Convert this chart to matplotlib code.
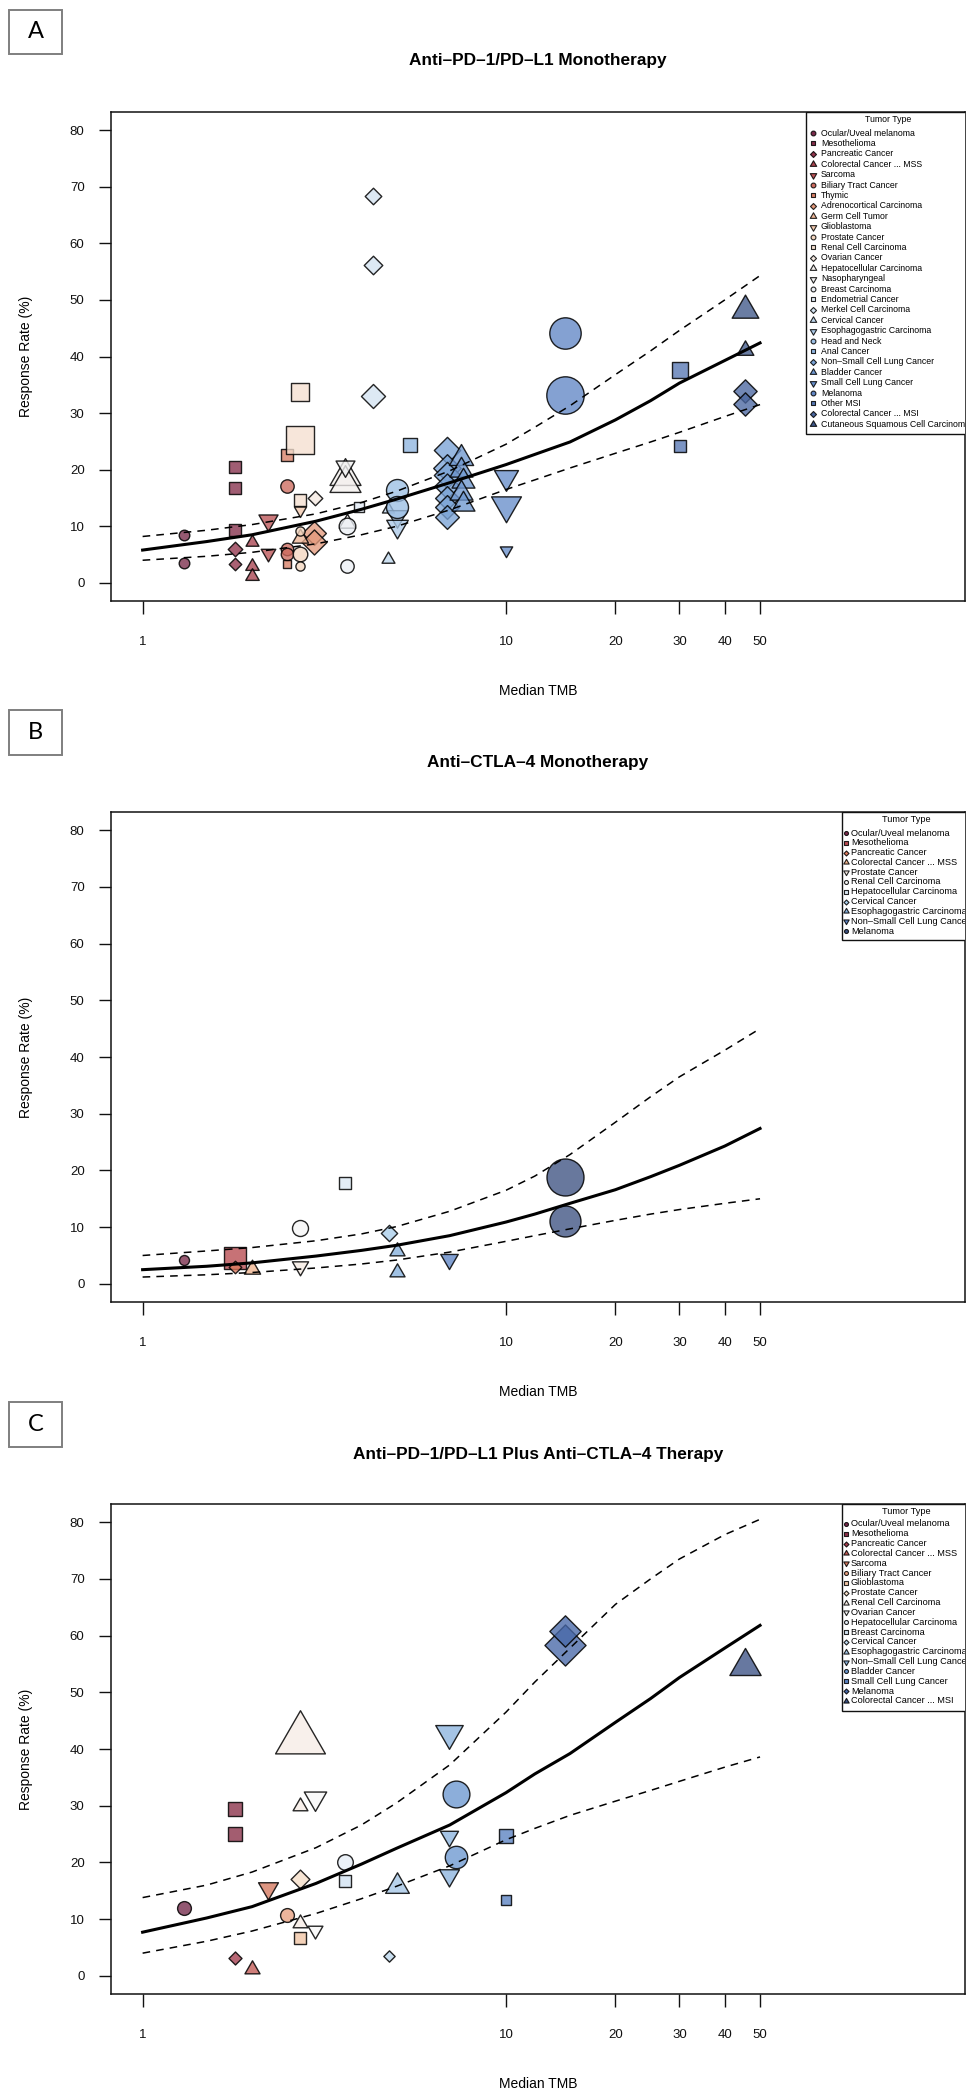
import numpy as np
import matplotlib
matplotlib.use("Agg")
import matplotlib.pyplot as plt
from matplotlib.path import Path
from matplotlib.patches import Rectangle
from matplotlib.colors import to_rgba
from matplotlib.ticker import FixedLocator, NullLocator, FixedFormatter

plt.rcParams["font.family"] = ["Liberation Sans", "DejaVu Sans"]

W, H, DPI = 978, 2100, 100
PT = 72.0 / DPI

# ---------------- panel A: anti-PD-1/PD-L1 ----------------
A_types = ["Ocular/Uveal melanoma", "Mesothelioma", "Pancreatic Cancer", "Colorectal Cancer ... MSS",
           "Sarcoma", "Biliary Tract Cancer", "Thymic", "Adrenocortical Carcinoma", "Germ Cell Tumor",
           "Glioblastoma", "Prostate Cancer", "Renal Cell Carcinoma", "Ovarian Cancer",
           "Hepatocellular Carcinoma", "Nasopharyngeal", "Breast Carcinoma", "Endometrial Cancer",
           "Merkel Cell Carcinoma", "Cervical Cancer", "Esophagogastric Carcinoma", "Head and Neck",
           "Anal Cancer", "Non\u2013Small Cell Lung Cancer", "Bladder Cancer", "Small Cell Lung Cancer",
           "Melanoma", "Other MSI", "Colorectal Cancer ... MSI", "Cutaneous Squamous Cell Carcinoma"]
A_colors = ["#7a2b4b", "#85304c", "#92354d", "#a8434f", "#bc5356", "#cc6a5e", "#d87f66", "#e49a7c",
            "#edb596", "#f2c9ae", "#f4d6c0", "#f5e0d0", "#f5eae2", "#f4f0ee", "#f2f2f2", "#ecf0f6",
            "#e2ebf5", "#d4e4f2", "#c0d8ee", "#accae8", "#9cbfe4", "#8fb5df", "#7aa3d6", "#6f97cf",
            "#688fcb", "#6287c6", "#5778b4", "#4b67a0", "#40588a"]
A_type = [0, 0, 1, 1, 1, 2, 2, 3, 3, 3, 4, 4, 5, 5, 5, 6, 6, 7, 7, 8, 9, 10, 10, 10, 11, 11, 11,
          12, 13, 13, 13, 14, 15, 15, 16, 17, 17, 17, 18, 18, 19, 19, 20, 20, 21,
          22, 22, 22, 22, 22, 22, 22, 23, 23, 23, 23, 23, 24, 24, 24, 25, 25, 26, 26, 27, 27, 28, 28]
A_tmb = [1.30, 1.30, 1.80, 1.80, 1.80, 1.80, 1.80, 2.00, 2.00, 2.00, 2.21, 2.21, 2.50, 2.50, 2.50,
         2.50, 2.50, 2.97, 2.97, 2.71, 2.71, 2.71, 2.71, 2.71, 2.71, 2.71, 2.71,
         2.98, 3.60, 3.60, 3.64, 3.60, 3.64, 3.64, 3.94, 4.30, 4.30, 4.30, 4.74, 4.74, 5.00, 5.00,
         5.00, 5.00, 5.44, 6.90, 6.90, 6.90, 6.90, 6.90, 6.90, 6.90, 7.50, 7.50, 7.60, 7.50, 7.60,
         10.0, 10.0, 10.0, 14.5, 14.5, 30.2, 30.2, 45.4, 45.4, 45.4, 45.4]
A_rr = [8.4, 3.5, 20.5, 16.7, 9.4, 6.0, 3.3, 7.3, 3.0, 1.3, 11.2, 5.3, 17.2, 6.0, 5.1,
        22.6, 3.3, 8.8, 7.2, 8.0, 12.9, 9.2, 5.1, 2.9, 33.7, 25.3, 14.7,
        15.0, 18.9, 17.7, 10.5, 20.6, 10.0, 3.0, 13.4, 68.3, 56.1, 33.1, 13.0, 4.3, 11.8, 10.1,
        16.4, 13.4, 24.4, 23.5, 20.3, 19.0, 17.1, 15.0, 13.4, 11.6, 22.0, 20.0, 18.0, 15.8, 14.0,
        18.7, 13.7, 5.8, 44.2, 33.2, 37.7, 24.2, 33.9, 31.6, 48.2, 41.1]
A_size = [5.3, 5.3, 7.3, 7.3, 7.0, 5.8, 5.0, 4.8, 5.0, 5.0, 7.1, 5.4, 6.7, 6.2, 6.2,
          6.9, 5.0, 9.5, 10.0, 6.0, 4.5, 4.6, 7.3, 4.6, 10.5, 15.8, 7.2,
          5.8, 11.5, 11.5, 6.0, 7.0, 8.3, 6.7, 5.6, 6.6, 7.4, 9.6, 4.5, 4.8, 7.5, 8.0,
          11.0, 11.0, 7.5, 10.5, 11.0, 10.5, 10.0, 9.5, 9.5, 9.5, 9.0, 8.5, 8.5, 8.5, 8.5,
          8.9, 11.1, 4.6, 15.7, 18.7, 9.4, 6.8, 9.3, 9.3, 9.9, 6.2]
fit_x = [1, 1.5, 2, 3, 4, 5, 7, 10, 12, 15, 20, 25, 30, 40, 50]
A_fit = [5.8, 7.3, 8.5, 10.9, 13.0, 14.8, 17.7, 20.9, 22.7, 24.9, 28.8, 32.2, 35.3, 39.3, 42.4]
A_upper = [8.2, 9.3, 10.3, 12.2, 14.2, 16.2, 19.8, 24.5, 27.5, 31.3, 36.8, 41.0, 44.6, 50.0, 54.3]
A_lower = [4.0, 4.7, 5.4, 6.9, 8.5, 10.0, 12.9, 16.5, 18.2, 20.3, 22.9, 24.9, 26.6, 29.4, 31.5]

# ---------------- panel B: anti-CTLA-4 ----------------
B_types = ["Ocular/Uveal melanoma", "Mesothelioma", "Pancreatic Cancer", "Colorectal Cancer ... MSS",
           "Prostate Cancer", "Renal Cell Carcinoma", "Hepatocellular Carcinoma", "Cervical Cancer",
           "Esophagogastric Carcinoma", "Non\u2013Small Cell Lung Cancer", "Melanoma"]
B_colors = ["#7a2b4b", "#b84a50", "#dc7a5e", "#f0b48e", "#f6ebe4", "#f5f5f5", "#dce8f4",
            "#aacdea", "#86b0dc", "#5f86c6", "#3d5282"]
B_type = [0, 1, 2, 3, 4, 5, 6, 7, 8, 8, 9, 10, 10]
B_tmb = [1.30, 1.80, 1.80, 2.00, 2.71, 2.71, 3.60, 4.75, 5.00, 5.00, 6.95, 14.5, 14.5]
B_rr = [4.2, 4.6, 3.0, 2.7, 3.1, 9.9, 17.8, 9.0, 5.8, 2.1, 4.3, 18.8, 11.1]
B_size = [5.0, 12.4, 5.0, 6.0, 6.0, 8.0, 6.3, 6.5, 5.6, 5.6, 6.5, 18.5, 15.5]
B_fit = [2.5, 3.1, 3.7, 4.9, 5.9, 6.8, 8.5, 10.9, 12.3, 14.2, 16.6, 18.9, 20.9, 24.3, 27.4]
B_upper = [5.0, 5.8, 6.4, 7.6, 8.8, 10.1, 12.8, 16.5, 19.0, 22.8, 28.5, 33.0, 36.5, 41.2, 45.0]
B_lower = [1.2, 1.6, 2.0, 2.8, 3.5, 4.2, 5.6, 7.5, 8.5, 9.7, 11.2, 12.3, 13.1, 14.2, 15.0]

# ---------------- panel C: combination ----------------
C_types = ["Ocular/Uveal melanoma", "Mesothelioma", "Pancreatic Cancer", "Colorectal Cancer ... MSS",
           "Sarcoma", "Biliary Tract Cancer", "Glioblastoma", "Prostate Cancer", "Renal Cell Carcinoma",
           "Ovarian Cancer", "Hepatocellular Carcinoma", "Breast Carcinoma", "Cervical Cancer",
           "Esophagogastric Carcinoma", "Non\u2013Small Cell Lung Cancer", "Bladder Cancer",
           "Small Cell Lung Cancer", "Melanoma", "Colorectal Cancer ... MSI"]
C_colors = ["#74294a", "#8a2f48", "#a43c4e", "#c25a55", "#d4785e", "#e8a080", "#f0c4a4", "#f6dec8",
            "#f7ede6", "#f8f8f8", "#e6eef7", "#d2e2f1", "#bcd6ec", "#a4c6e6", "#8cb4de", "#6c98d0",
            "#5a82c2", "#4868a8", "#3c5286"]
C_type = [0, 1, 1, 2, 3, 4, 5, 6, 7, 8, 8, 8, 9, 9, 10, 11, 12, 13, 14, 14, 14, 15, 15, 16, 16,
          17, 17, 18]
C_tmb = [1.30, 1.80, 1.80, 1.80, 2.00, 2.21, 2.50, 2.71, 2.71, 2.71, 2.71, 2.71, 2.98, 2.98, 3.60,
         3.60, 4.75, 5.00, 6.95, 6.95, 6.95, 7.29, 7.29, 10.0, 10.0, 14.5, 14.5, 45.4]
C_rr = [12.0, 29.4, 25.0, 3.1, 1.2, 15.5, 10.8, 6.7, 17.1, 41.7, 30.0, 9.3, 31.3, 8.0, 20.1,
        16.7, 3.5, 15.8, 42.9, 24.6, 17.7, 32.1, 20.9, 24.6, 13.4, 58.3, 60.8, 54.6]
C_size = [6.9, 7.7, 7.7, 5.2, 5.6, 7.4, 6.9, 6.3, 7.5, 18.5, 5.5, 5.5, 8.3, 5.5, 7.8,
          6.3, 4.5, 8.8, 10.2, 6.7, 7.4, 13.4, 11.2, 7.7, 5.3, 16.4, 12.5, 11.6]
C_fit = [7.7, 10.2, 12.2, 16.3, 19.7, 22.5, 26.6, 32.3, 35.6, 39.2, 44.7, 48.9, 52.6, 57.8, 61.8]
C_upper = [13.8, 16.0, 18.3, 22.6, 26.6, 30.5, 37.2, 46.5, 51.8, 57.8, 65.5, 70.0, 73.5, 77.8, 80.5]
C_lower = [4.0, 6.1, 7.9, 11.0, 13.6, 15.8, 19.4, 24.0, 26.0, 28.3, 30.8, 32.7, 34.3, 36.8, 38.6]

x_ticks = [1, 10, 20, 30, 40, 50]
y_ticks = [0, 10, 20, 30, 40, 50, 60, 70, 80]

# R-style filled symbols (pch 21..25), equal area for equal size
SQ, DM = 0.8862269, 1.2533141
T0, T1, T2 = 1.5551203, 1.3467737, 0.7775602


def rpath(pts):
    pts = list(pts) + [pts[0]]
    return Path(pts, closed=True)


SHAPES = [
    ("o", 1.0),
    (rpath([(-SQ, -SQ), (SQ, -SQ), (SQ, SQ), (-SQ, SQ)]), SQ),
    (rpath([(0, DM), (DM, 0), (0, -DM), (-DM, 0)]), DM),
    (rpath([(0, T0), (T1, -T2), (-T1, -T2)]), T0),
    (rpath([(0, -T0), (T1, T2), (-T1, T2)]), T0),
]


def symbol(ax, x, y, r_px, shape, color, mew=1.0, alpha=0.78, **kw):
    marker, ext = SHAPES[shape % 5]
    ax.plot([x], [y], linestyle="none", marker=marker, ms=2 * r_px * ext * PT,
            mfc=to_rgba(color, alpha), mec=(0, 0, 0, 0.85), mew=mew, **kw)


fig = plt.figure(figsize=(W / DPI, H / DPI), dpi=DPI)

panels = [
    dict(label="A", title="Anti\u2013PD\u20131/PD\u2013L1 Monotherapy", top=112, bot=601,
         title_y=61, box=(9, 10, 62, 54), types=A_types, colors=A_colors, t=A_type, x=A_tmb,
         y=A_rr, s=A_size, fit=A_fit, up=A_upper, lo=A_lower,
         leg=dict(left=806, bot=434, title=119, first=133, step=10.4, mx=813, tx=821, fs=6.3,
                  ms=2.4)),
    dict(label="B", title="Anti\u2013CTLA\u20134 Monotherapy", top=812, bot=1302,
         title_y=762, box=(9, 710, 62, 755), types=B_types, colors=B_colors, t=B_type, x=B_tmb,
         y=B_rr, s=B_size, fit=B_fit, up=B_upper, lo=B_lower,
         leg=dict(left=842, bot=940, title=820, first=833, step=9.8, mx=846.5, tx=851, fs=6.6,
                  ms=2.0)),
    dict(label="C", title="Anti\u2013PD\u20131/PD\u2013L1 Plus Anti\u2013CTLA\u20134 Therapy", top=1504,
         bot=1994, title_y=1454, box=(9, 1402, 62, 1447), types=C_types, colors=C_colors,
         t=C_type, x=C_tmb, y=C_rr, s=C_size, fit=C_fit, up=C_upper, lo=C_lower,
         leg=dict(left=842, bot=1711, title=1512, first=1524, step=9.83, mx=846.5, tx=851,
                  fs=6.6, ms=2.0)),
]

L, R = 111, 965
for p in panels:
    top, bot = p["top"], p["bot"]
    ax = fig.add_axes([L / W, 1 - bot / H, (R - L) / W, (bot - top) / H])
    ax.set_xscale("log")
    ax.set_xlim(10 ** -0.087, 10 ** 2.263)
    ax.set_ylim(-3.2, 83.2)
    ax.xaxis.set_major_locator(FixedLocator(x_ticks))
    ax.xaxis.set_major_formatter(FixedFormatter([str(v) for v in x_ticks]))
    ax.xaxis.set_minor_locator(NullLocator())
    ax.set_yticks(y_ticks)
    ax.tick_params(axis="both", direction="out", length=9, width=1.0, labelsize=9.5,
                   colors="#111111")
    ax.tick_params(axis="x", pad=16)
    ax.tick_params(axis="y", pad=10)
    for sp in ax.spines.values():
        sp.set_linewidth(1.1)
        sp.set_color("#111111")

    # points
    for ti, xv, yv, sv in zip(p["t"], p["x"], p["y"], p["s"]):
        symbol(ax, xv, yv, sv, ti, p["colors"][ti], zorder=3)

    # fitted curve and confidence band
    ax.plot(fit_x, p["fit"], color="black", lw=2.2, zorder=4)
    ax.plot(fit_x, p["up"], color="black", lw=1.1, ls=(0, (5, 4)), zorder=4)
    ax.plot(fit_x, p["lo"], color="black", lw=1.1, ls=(0, (5, 4)), zorder=4)

    # legend (drawn by hand so it is clipped at the plot edge like the original)
    lg = p["leg"]

    def ax_xy(px, py):
        return (px - L) / (R - L), (bot - py) / (bot - top)

    lx, ly = ax_xy(lg["left"], lg["bot"])
    ax.add_patch(Rectangle((lx, ly), 1.2 - lx, 1 - ly, transform=ax.transAxes, facecolor="white",
                           edgecolor="#111111", lw=1.0, zorder=6, clip_on=True))
    tx0, ty0 = ax_xy((lg["left"] + R) / 2 + 3, lg["title"])
    ax.text(tx0, ty0, "Tumor Type", transform=ax.transAxes, ha="center", va="center",
            fontsize=lg["fs"], zorder=7, clip_on=True)
    for i, name in enumerate(p["types"]):
        py = lg["first"] + i * lg["step"]
        mx, my = ax_xy(lg["mx"], py)
        symbol(ax, mx, my, lg["ms"], i, p["colors"][i], mew=0.8, alpha=1.0,
               transform=ax.transAxes, zorder=7, clip_on=True)
        tx, ty = ax_xy(lg["tx"], py)
        ax.text(tx, ty, name, transform=ax.transAxes, ha="left", va="center", fontsize=lg["fs"],
                zorder=7, clip_on=True)

    # titles and axis labels
    cx = (L + R) / 2 / W
    fig.text(cx, 1 - p["title_y"] / H, p["title"], ha="center", va="center", fontsize=12.4,
             fontweight="bold")
    fig.text(cx, 1 - (bot + 90) / H, "Median TMB", ha="center", va="center", fontsize=10)
    fig.text(26 / W, 1 - (top + bot) / 2 / H, "Response Rate (%)", rotation=90, ha="center",
             va="center", fontsize=10)

    # panel letter box
    x0, y0, x1, y1 = p["box"]
    fig.patches.append(Rectangle((x0 / W, 1 - y1 / H), (x1 - x0) / W, (y1 - y0) / H,
                                 transform=fig.transFigure, fill=False, edgecolor="#7f7f7f",
                                 lw=1.4))
    fig.text((x0 + x1) / 2 / W, 1 - (y0 + y1) / 2 / H, p["label"], ha="center", va="center",
             fontsize=17, family=["Lato", "DejaVu Sans"])

fig.savefig("out.png", dpi=DPI)
